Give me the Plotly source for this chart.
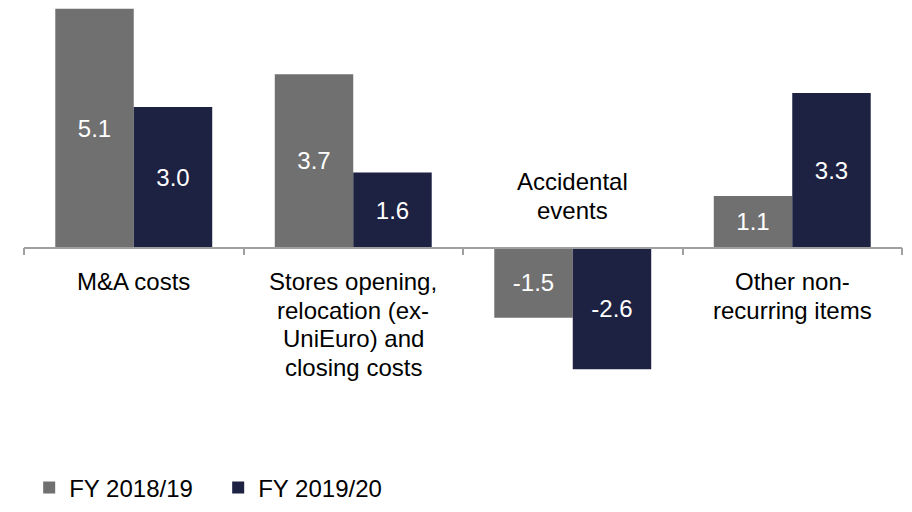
import plotly.graph_objects as go

# Non-recurring items by category, EUR m
categories = ["M&A costs", "Stores opening", "Accidental events", "Other non-recurring items"]
category_labels = [
    ["M&A costs"],
    ["Stores opening,", "relocation (ex-", "UniEuro) and", "closing costs"],
    ["Accidental", "events"],
    ["Other non-", "recurring items"],
]
series_names = ["FY 2018/19", "FY 2019/20"]
fy_2018_19 = [5.1, 3.7, -1.5, 1.1]
fy_2019_20 = [3.0, 1.6, -2.6, 3.3]

colors = ["#707070", "#1d2142"]
font_family = "Arial, Liberation Sans, sans-serif"
font_size = 24
line_step = 28.7  # px between label lines
y_min, y_max = -3.0, 5.2

fig = go.Figure()
for name, values, color in zip(series_names, [fy_2018_19, fy_2019_20], colors):
    fig.add_trace(go.Bar(
        name=name,
        x=categories,
        y=values,
        marker=dict(color=color, line=dict(width=0)),
        text=[f"{v:.1f}" for v in values],
        textposition="inside",
        insidetextanchor="middle",
        textangle=0,
        textfont=dict(color="white", size=font_size, family=font_family),
        hoverinfo="skip",
    ))

# Category names sit below the axis, or above it when the bars are negative
for cat, lines, a, b in zip(categories, category_labels, fy_2018_19, fy_2019_20):
    below = max(a, b) > 0
    n = len(lines)
    for i, line in enumerate(lines):
        if below:
            shift = -34 - i * line_step
        else:
            shift = 37 + (n - 1 - i) * line_step
        fig.add_annotation(
            x=cat, y=0, xref="x", yref="y",
            text=line, showarrow=False, align="center",
            yanchor="middle", yshift=shift,
            font=dict(size=font_size, color="#000000", family=font_family),
        )

zero_pos = (0 - y_min) / (y_max - y_min)

fig.update_layout(
    width=912, height=512,
    margin=dict(l=24, r=10, t=4, b=124),
    paper_bgcolor="white", plot_bgcolor="white",
    barmode="group", bargap=0.285, bargroupgap=0,
    showlegend=True,
    legend=dict(
        orientation="h", xref="container", yref="container",
        x=0.032, y=0.003, xanchor="left", yanchor="bottom",
        font=dict(size=font_size, color="#000000", family=font_family),
        entrywidth=144, entrywidthmode="pixels",
        itemclick=False, itemdoubleclick=False,
    ),
    xaxis=dict(
        type="category", categoryorder="array", categoryarray=categories,
        range=[-0.5, 3.5],
        anchor="free", position=zero_pos,
        showline=True, linecolor="#a0a0a0", linewidth=1.5,
        ticks="outside", tickson="boundaries", ticklen=7,
        tickcolor="#a0a0a0", tickwidth=1.5,
        showticklabels=False, showgrid=False, zeroline=False,
    ),
    yaxis=dict(
        range=[y_min, y_max], visible=False,
        showgrid=False, zeroline=False,
    ),
    font=dict(family=font_family),
)

fig.write_html("out.html")
